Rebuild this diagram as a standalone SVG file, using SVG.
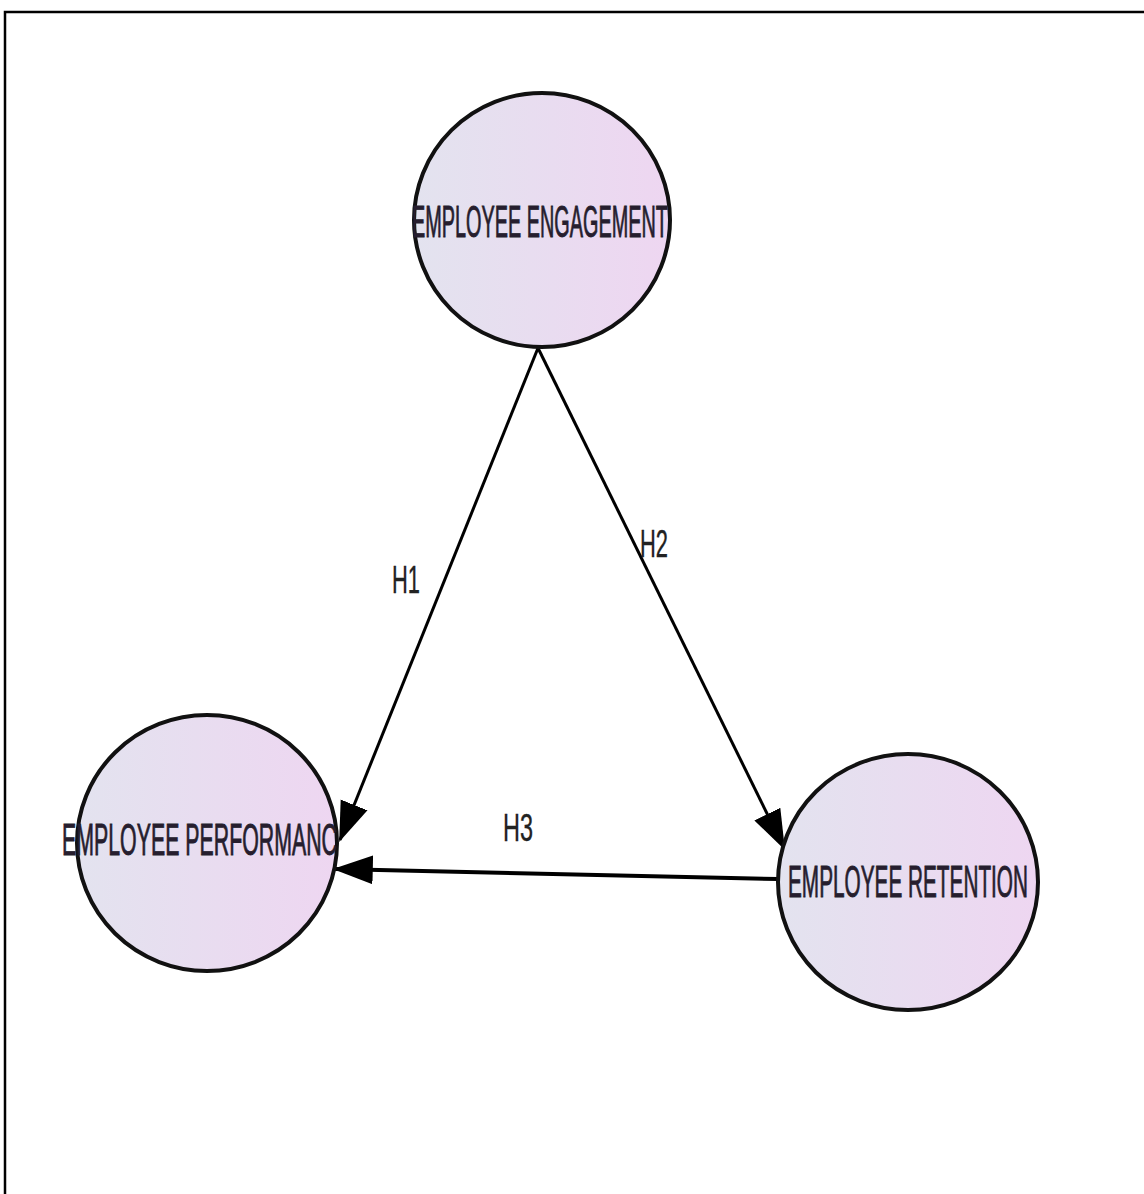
<svg xmlns="http://www.w3.org/2000/svg" width="1144" height="1194" viewBox="0 0 1144 1194">
<defs>
<linearGradient id="fillg" x1="0" y1="0" x2="1" y2="0">
<stop offset="0" stop-color="#e3e3ef"/>
<stop offset="1" stop-color="#eed6f1"/>
</linearGradient>
<marker id="arr" markerUnits="userSpaceOnUse" markerWidth="40" markerHeight="30" viewBox="0 0 36 26" refX="34" refY="13" orient="auto">
<path d="M0,0 L36,13 L0,26 z" fill="#000"/>
</marker>
</defs>
<style>
.node ellipse{fill:url(#fillg);stroke:#111;stroke-width:4}
.node text{font-family:"Liberation Sans",Arial,sans-serif;font-size:44px;fill:#261e2e;stroke:#261e2e;stroke-width:0.9}
.lbl{font-family:"Liberation Sans",Arial,sans-serif;font-size:38px;fill:#222;stroke:#222;stroke-width:0.4}
.edge{stroke:#000;stroke-width:3;fill:none;marker-end:url(#arr)}
</style>
<rect x="0" y="0" width="1144" height="1194" fill="#fff"/>
<path d="M5,1194 V12 H1144" fill="none" stroke="#000" stroke-width="2.5"/>
<g id="connectors">
<line class="edge" x1="538" y1="348" x2="340" y2="840"/>
<line class="edge" x1="538" y1="348" x2="784" y2="848"/>
<line class="edge" x1="778" y1="879" x2="335" y2="869" style="stroke-width:4"/>
<text class="lbl" x="392" y="593" textLength="28" lengthAdjust="spacingAndGlyphs">H1</text>
<text class="lbl" x="640" y="557" textLength="28" lengthAdjust="spacingAndGlyphs">H2</text>
<text class="lbl" x="503" y="841" textLength="30" lengthAdjust="spacingAndGlyphs">H3</text>
</g>
<g id="engagement" class="node">
<ellipse cx="542" cy="220" rx="128" ry="127"/>
<text x="412" y="237" textLength="256" lengthAdjust="spacingAndGlyphs">EMPLOYEE ENGAGEMENT</text>
</g>
<g id="performance" class="node">
<ellipse cx="207" cy="843" rx="130" ry="128"/>
<text x="62" y="855" textLength="275" lengthAdjust="spacingAndGlyphs">EMPLOYEE PERFORMANC</text>
</g>
<g id="retention" class="node">
<ellipse cx="908" cy="882" rx="130" ry="128"/>
<text x="788" y="897" textLength="240" lengthAdjust="spacingAndGlyphs">EMPLOYEE RETENTION</text>
</g>
</svg>
